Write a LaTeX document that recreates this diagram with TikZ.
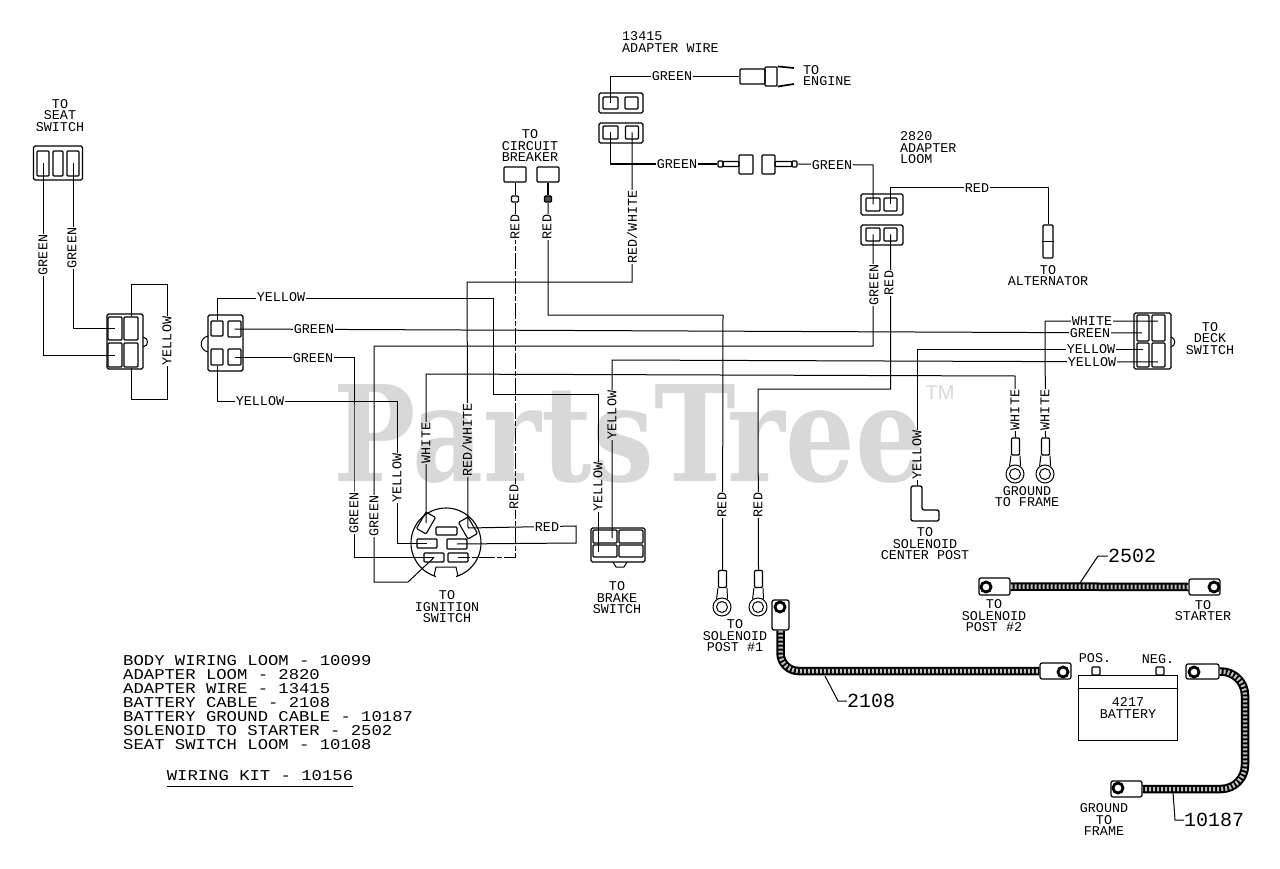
\documentclass[tikz,border=0pt]{standalone}
\usepackage{fontspec}
\setmainfont{Liberation Mono}
\newfontfamily\wmfont{DejaVu Serif}
\newfontfamily\tmfont{Liberation Sans}
\newfontfamily\kitfont[FakeStretch=1.15]{Liberation Mono}
\definecolor{wmgray}{RGB}{216,216,216}
\tikzset{
  sz/.style 2 args={minimum width=#1pt,minimum height=#2pt},
  wire/.style={line width=1pt},
  fatwire/.style={line width=1.7pt},
  broken/.style={line width=1pt,dash pattern=on 16pt off 2pt on 5pt off 2pt},
  lbl/.style={fill=white,inner sep=1.2pt,font=\fontsize{13.4}{13.4}\selectfont},
  vlbl/.style={lbl,rotate=90},
  txt/.style={align=center,inner sep=0pt,font=\fontsize{13.4}{11.5}\selectfont},
  part/.style={txt,font=\fontsize{20}{20}\selectfont},
  shell/.style={draw,line width=1.3pt,rounded corners=1.5pt,inner sep=0pt,fill=white},
  pin/.style={draw,line width=1.1pt,rounded corners=1pt,inner sep=0pt},
  ring/.style={draw,circle,line width=1pt,inner sep=0pt,minimum size=#1pt},
  lug/.style={draw,line width=1.2pt,rounded corners=2pt,inner sep=0pt,fill=white},
  hole/.style={draw,circle,line width=2.8pt,inner sep=0pt,minimum size=10pt,fill=white},
  cable/.style={line width=8.5pt,postaction={draw,black!25,line width=4.5pt,dash pattern=on 2pt off 2pt}}
}
\begin{document}
\begin{tikzpicture}[x=1pt,y=-1pt]
\useasboundingbox (0,0) rectangle (1280,869);
\node[shell,sz={49}{34}] (seatBox) at (58,163) {};
\node[pin,sz={12}{25}] (seatL) at (43,163.5) {};
\node[pin,sz={10}{25}] (seatM) at (58,163.5) {};
\node[pin,sz={12}{25}] (seatR) at (73,163.5) {};
\draw[wire] (143,337) .. controls (149,338) and (149,346) .. (143,347);
\node[shell,sz={36}{55}] (plugBox) at (125,341.5) {};
\node[pin,sz={14}{23}] (plugTL) at (115,328.5) {};
\node[pin,sz={14}{23}] (plugTR) at (131,328.5) {};
\node[pin,sz={14}{24}] (plugBL) at (115,355) {};
\node[pin,sz={14}{24}] (plugBR) at (131,355) {};
\draw[wire] (208,336) .. controls (199,338) and (199,350) .. (208,352);
\node[shell,sz={35}{56}] (midBox) at (225.5,343) {};
\node[pin,sz={12}{15}] (midTL) at (217,328.5) {};
\node[pin,sz={13}{16}] (midTR) at (234.5,329) {};
\node[pin,sz={12}{16}] (midBL) at (217,357) {};
\node[pin,sz={13}{16}] (midBR) at (234.5,357) {};
\node[shell,sz={44}{20}] (adpBox1) at (621,103) {};
\node[pin,sz={15}{12}] (adpTL) at (610.5,103) {};
\node[pin,sz={13}{12}] (adpTR) at (631.5,103) {};
\node[shell,sz={44}{20}] (adpBox2) at (621,133) {};
\node[pin,sz={15}{13}] (adpBL) at (610.5,132.5) {};
\node[pin,sz={13}{13}] (adpBR) at (632,132.5) {};
\node[pin,sz={25}{15}] (engBody) at (752.5,76.5) {};
\node[pin,sz={12}{19}] (engCollar) at (771,76.5) {};
\coordinate (engP1) at (794,68);
\coordinate (engP2) at (794,84);
\draw[fatwire] (engCollar.north east) -- (engP1);
\draw[fatwire] (engCollar.south east) -- (engP2);
\node[pin,sz={5}{6}] (inLbarrel) at (720.5,164) {};
\node[pin,sz={16}{5}] (inLneck) at (731,164) {};
\node[pin,sz={14}{19}] (inLbody) at (746,164.5) {};
\node[pin,sz={13}{19}] (inRbody) at (768.5,164.5) {};
\node[pin,sz={17}{5}] (inRneck) at (783.5,164) {};
\node[pin,sz={5}{6}] (inRbarrel) at (794.5,164) {};
\node[shell,sz={42}{21}] (loomBox1) at (882,204.5) {};
\node[pin,sz={14}{13}] (loomTL) at (873,204.5) {};
\node[pin,sz={13}{13}] (loomTR) at (890.5,204.5) {};
\node[shell,sz={42}{20}] (loomBox2) at (882,235) {};
\node[pin,sz={14}{13}] (loomBL) at (873,234.5) {};
\node[pin,sz={13}{13}] (loomBR) at (890.5,234.5) {};
\node[pin,sz={10}{33}] (altTerm) at (1048,241.5) {};
\draw[wire] (altTerm.west) -- (altTerm.east);
\draw[wire] (1171,337) .. controls (1176,338) and (1176,346) .. (1171,347);
\node[shell,sz={37}{56}] (deckBox) at (1152.5,341) {};
\node[pin,sz={12}{26}] (deckTL) at (1143,328) {};
\node[pin,sz={13}{26}] (deckTR) at (1158.5,328) {};
\node[pin,sz={12}{24}] (deckBL) at (1143,355) {};
\node[pin,sz={13}{24}] (deckBR) at (1158.5,355) {};
\coordinate (deckW) at (1158,321);
\coordinate (deckG) at (1142,333);
\coordinate (deckY1) at (1143,349);
\coordinate (deckY2) at (1158,362);
\node[draw,circle,line width=1.1pt,inner sep=0pt,minimum size=70pt] (ignBody) at (446,543) {};
\fill[white] (436,570) rectangle (456,579.5);
\draw[wire] (434,576) -- (436,567) -- (456,567) -- (458,576);
\node[pin,sz={11}{19},rotate=-30] (ignTL) at (426,523) {};
\node[pin,sz={11}{19},rotate=30] (ignTR) at (468,528) {};
\node[pin,sz={21}{8}] (ignTC) at (446.5,531) {};
\node[pin,sz={20}{9}] (ignML) at (427,543.5) {};
\node[pin,sz={20}{10}] (ignMR) at (457,544) {};
\node[pin,sz={20}{9}] (ignLL) at (434,557.5) {};
\node[pin,sz={20}{9}] (ignLR) at (458,557.5) {};
\draw[wire] (613,562) -- (616,567) -- (624,567) -- (627,562);
\node[shell,sz={54}{34}] (brakeBox) at (618,545) {};
\node[pin,sz={24}{13}] (brakeTL) at (605,536.5) {};
\node[pin,sz={24}{13}] (brakeTR) at (631,536.5) {};
\node[pin,sz={24}{12}] (brakeBL) at (605,551) {};
\node[pin,sz={24}{12}] (brakeBR) at (631,551) {};
\coordinate (brakeY1) at (612,538);
\coordinate (brakeY2) at (598,552);
\node[pin,sz={22}{15}] (cbLbody) at (515,174.5) {};
\node[pin,sz={22}{15}] (cbRbody) at (548,174.5) {};
\node[pin,sz={7}{6}] (cbLend) at (515,199) {};
\node[pin,fill=black!70,sz={7}{6}] (cbRend) at (548,199) {};
\draw[wire] (cbLbody) -- (cbLend);
\draw[line width=2.4pt] (cbRbody) -- (cbRend);
\node[pin,sz={8}{17}] (tubeR1) at (722.5,579) {};
\node[ring=18] (ringR1) at (722,607) {};
\node[ring=11] (holeR1) at (722,607) {};
\draw[wire] (tubeR1.south west) -- (ringR1.125);
\draw[wire] (tubeR1.south east) -- (ringR1.55);
\node[pin,sz={8}{17}] (tubeR2) at (758.5,579) {};
\node[ring=18] (ringR2) at (758,607) {};
\node[ring=11] (holeR2) at (758,607) {};
\draw[wire] (tubeR2.south west) -- (ringR2.125);
\draw[wire] (tubeR2.south east) -- (ringR2.55);
\node[pin,sz={8}{17}] (tubeW1) at (1015.5,446.5) {};
\node[ring=18] (ringW1) at (1015,474) {};
\node[ring=11] (holeW1) at (1015,474) {};
\draw[wire] (tubeW1.south west) -- (ringW1.125);
\draw[wire] (tubeW1.south east) -- (ringW1.55);
\node[pin,sz={8}{17}] (tubeW2) at (1045.5,446.5) {};
\node[ring=18] (ringW2) at (1045,474) {};
\node[ring=11] (holeW2) at (1045,474) {};
\draw[wire] (tubeW2.south west) -- (ringW2.125);
\draw[wire] (tubeW2.south east) -- (ringW2.55);
\coordinate (solTop) at (917,486);
\draw[line width=1.3pt,rounded corners=2pt] (911,486) -- (922,486) -- (922,510) -- (939,510) -- (939,521) -- (911,521) -- cycle;
\draw[wire] (seatL.center) |- (plugBL.center);
\draw[wire] (seatR.center) |- (plugTL.center);
\coordinate (loopT) at (167,284);
\coordinate (loopB) at (167,399);
\draw[wire] (plugTR.north) |- (loopT) -- (loopB) -| (plugBR.south);
\coordinate (ywA) at (493,298);
\coordinate (ywB) at (493,394);
\draw[wire] (midTL.north) |- (ywA) -- (ywB) -| (brakeY2);
\draw[wire] (midTR.center) -- (deckG);
\coordinate (gnA) at (354,450);
\draw[wire] (midBR.center) -| (gnA) |- (ignLL.center);
\coordinate (ywC) at (397,401);
\draw[wire] (midBL.south) |- (ywC) |- (ignML.center);
\coordinate (gnB) at (374,346);
\coordinate (gnC) at (374,582);
\coordinate (gnD) at (408,582);
\draw[wire] (loomBL.center) |- (gnB) -- (gnC) -- (gnD) -- (ignLL.center);
\coordinate (whA) at (426,374);
\coordinate (whB) at (1015,376);
\draw[wire] (ignTL.center) -- (whA) -- (whB) -- (tubeW1.north);
\coordinate (rwA) at (467,282);
\coordinate (rwB) at (632,282);
\draw[wire] (ignTR.center) -- (rwA) -- (rwB) -- (adpBR.center);
\coordinate (rdA) at (576,526);
\coordinate (rdB) at (576,543);
\draw[wire] (ignTR.center) -- (rdA) -- (rdB) -- (ignMR.center);
\draw[broken] (cbLend.south) |- (ignLR.center);
\coordinate (rdC) at (723,315);
\draw[wire] (cbRend.south) |- (rdC) -- (tubeR1.north);
\coordinate (rdD) at (758,389);
\draw[wire] (loomBR.center) |- (rdD) -- (tubeR2.north);
\coordinate (ywD) at (612,360);
\draw[wire] (deckY2) -- (ywD) -- (brakeY1);
\coordinate (ywE) at (917,349);
\draw[wire] (deckY1) -- (ywE) -- (solTop);
\coordinate (whC) at (1045,321);
\draw[wire] (deckW) -- (whC) -- (tubeW2.north);
\coordinate (rdE) at (1048,188);
\draw[wire] (loomTR.center) |- (rdE) -- (altTerm.north);
\draw[fatwire] (adpTL.center) |- (engBody.west);
\draw[fatwire] (adpBL.center) |- (inLbarrel.west);
\coordinate (gnE) at (873,165);
\draw[wire] (inRbarrel.east) -- (gnE) -- (loomTL.center);
\node[lug,sz={17}{30}] (lugA) at (780.5,615) {};
\node[hole] (holeA) at (780,607) {};
\node[lug,sz={31}{16}] (lugB) at (1055.5,671) {};
\node[hole] (holeB) at (1063,672) {};
\node[lug,sz={31}{17}] (lugC) at (994.5,586.5) {};
\node[hole] (holeC) at (986,587) {};
\node[lug,sz={31}{16}] (lugD) at (1204.5,587) {};
\node[hole] (holeD) at (1214,587) {};
\node[lug,sz={33}{15}] (lugE) at (1202.5,671.5) {};
\node[hole] (holeE) at (1194,672) {};
\node[lug,sz={31}{16}] (lugF) at (1126.5,789) {};
\node[hole] (holeF) at (1118,788) {};
\draw[cable,rounded corners=18pt] (lugA.south) |- (lugB.west);
\draw[cable] (lugC.east) -- (lugD.west);
\coordinate (cabE) at (1245,730);
\draw[cable,rounded corners=24pt] (lugE.east) -| (cabE) |- (lugF.east);
\node[draw,line width=1pt,inner sep=0pt,sz={99}{65}] (batt) at (1127.5,707.5) {};
\node[pin,sz={8}{8}] (battPos) at (1096,671) {};
\node[pin,sz={8}{8}] (battNeg) at (1160,671) {};
\coordinate (battL) at (1078,688);
\coordinate (battR) at (1177,688);
\draw[wire] (battL) -- (battR);
\node[vlbl] (lgSeatL) at (43,255) {GREEN};
\node[vlbl] (lgSeatR) at (72,248) {GREEN};
\node[vlbl] (lyLoop) at (167,341) {YELLOW};
\node[lbl] (lyTop) at (281,297) {YELLOW};
\node[lbl] (lgMid1) at (314,329) {GREEN};
\node[lbl] (lgMid2) at (313,358) {GREEN};
\node[lbl] (lyLow) at (260,401) {YELLOW};
\node[vlbl] (lgIgn1) at (354,513) {GREEN};
\node[vlbl] (lgIgn2) at (374,516) {GREEN};
\node[vlbl] (lyIgn) at (397,478) {YELLOW};
\node[vlbl] (lwIgn) at (426,443) {WHITE};
\node[vlbl] (lrwIgn) at (467,440) {RED/WHITE};
\node[vlbl] (lrIgn) at (514,497) {RED};
\node[lbl] (lrLoop) at (547,527) {RED};
\node[vlbl] (lyBrake1) at (598,487) {YELLOW};
\node[vlbl] (lyBrake2) at (612,415) {YELLOW};
\node[vlbl] (lrCb1) at (515,227) {RED};
\node[vlbl] (lrCb2) at (547,227) {RED};
\node[vlbl] (lrwAdp) at (632,227) {RED/WHITE};
\node[lbl] (lgEng) at (672,76) {GREEN};
\node[lbl] (lgIn1) at (677,164) {GREEN};
\node[lbl] (lgIn2) at (832,165) {GREEN};
\node[lbl] (lrAlt) at (977,188) {RED};
\node[vlbl] (lgLoom) at (874,285) {GREEN};
\node[vlbl] (lrLoom) at (889,283) {RED};
\node[vlbl] (lrRing1) at (722,505) {RED};
\node[vlbl] (lrRing2) at (758,505) {RED};
\node[vlbl] (lySol) at (917,455) {YELLOW};
\node[vlbl] (lwGnd1) at (1015,410) {WHITE};
\node[vlbl] (lwGnd2) at (1045,410) {WHITE};
\node[lbl] (lwDeck) at (1092,321) {WHITE};
\node[lbl] (lgDeck) at (1090,333) {GREEN};
\node[lbl] (lyDeck1) at (1091,349) {YELLOW};
\node[lbl] (lyDeck2) at (1092,362) {YELLOW};
\node[txt] (tSeat) at (60,115.5) {TO\\SEAT\\SWITCH};
\node[txt,align=left,anchor=west] (tAdpWire) at (622,42) {13415\\ADAPTER WIRE};
\node[txt,align=left,anchor=west] (tEngine) at (803,75.5) {TO\\ENGINE};
\node[txt] (tCb) at (530,146) {TO\\CIRCUIT\\BREAKER};
\node[txt,align=left,anchor=west] (tLoom) at (900,148) {2820\\ADAPTER\\LOOM};
\node[txt] (tAlt) at (1048,275.5) {TO\\ALTERNATOR};
\node[txt] (tDeck) at (1210,338.5) {TO\\DECK\\SWITCH};
\node[txt] (tGnd) at (1027,496.5) {GROUND\\TO FRAME};
\node[txt] (tSol) at (925,544) {TO\\SOLENOID\\CENTER POST};
\node[txt] (tIgn) at (447,607) {TO\\IGNITION\\SWITCH};
\node[txt] (tBrake) at (617,598) {TO\\BRAKE\\SWITCH};
\node[txt] (tPost1) at (735,636) {TO\\SOLENOID\\POST \#1};
\node[txt] (tPost2) at (994,616) {TO\\SOLENOID\\POST \#2};
\node[txt] (tStart) at (1203,610.5) {TO\\STARTER};
\node[txt] (tPos) at (1095,658) {POS.};
\node[txt] (tNeg) at (1158,659) {NEG.};
\node[txt] (tBatt) at (1128,708) {4217\\BATTERY};
\node[txt] (tFrame) at (1104,820) {GROUND\\TO\\FRAME};
\node[part] (p2502) at (1132,556) {2502};
\node[part] (p2108) at (871,701) {2108};
\node[part] (p10187) at (1214,820) {10187};
\coordinate (ldA1) at (1080,583);
\coordinate (ldA2) at (1098,556);
\draw[wire] (ldA1) -- (ldA2) -- (p2502.west);
\coordinate (ldB1) at (825,676);
\coordinate (ldB2) at (838,701);
\draw[wire] (ldB1) -- (ldB2) -- (p2108.west);
\coordinate (ldC1) at (1173,792);
\coordinate (ldC2) at (1175,820);
\draw[wire] (ldC1) -- (ldC2) -- (p10187.west);
\node[align=left,anchor=north west,inner sep=0pt,font=\kitfont\fontsize{15}{14}\selectfont] (tKit) at (123,655) {BODY WIRING LOOM - 10099\\ADAPTER LOOM - 2820\\ADAPTER WIRE - 13415\\BATTERY CABLE - 2108\\BATTERY GROUND CABLE - 10187\\SOLENOID TO STARTER - 2502\\SEAT SWITCH LOOM - 10108};
\node[inner sep=0pt,font=\kitfont\fontsize{15}{17}\selectfont] (tWiring) at (260,776) {WIRING KIT - 10156};
\draw[wire] ([yshift=-5pt]tWiring.south west) -- ([yshift=-5pt]tWiring.south east);
\begin{scope}[blend mode=multiply]
\node[text=wmgray,inner sep=0pt,anchor=base west,xscale=0.825,font=\wmfont\bfseries\fontsize{133}{133}\selectfont] (wmark) at (333,481) {PartsTree};
\node[text=wmgray,inner sep=0pt,font=\tmfont\fontsize{20}{20}\selectfont] (wmTM) at (940,393) {TM};
\end{scope}
\end{tikzpicture}
\end{document}
